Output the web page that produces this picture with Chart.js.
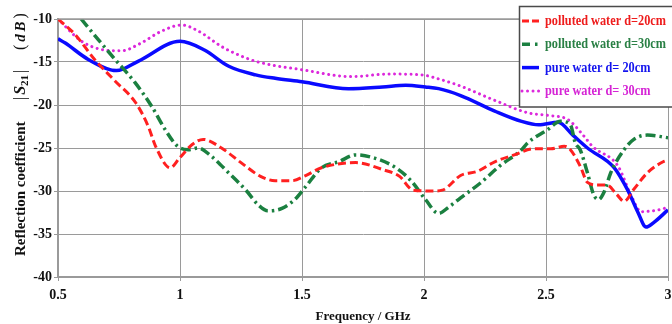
<!DOCTYPE html>
<html><head><meta charset="utf-8">
<script src="https://cdn.jsdelivr.net/npm/chart.js@4/dist/chart.umd.min.js"></script>
<style>html,body{margin:0;padding:0;background:#fff;overflow:hidden}#wrap{width:672px;height:324px;position:relative}</style>
</head><body><div id="wrap"><canvas id="c" width="672" height="324"></canvas></div>
<script>
// ---- data ----
const xTickLabels = ['0.5','1','1.5','2','2.5','3'];
const yTickLabels = ['-10','-15','-20','-25','-30','-35','-40'];
const seriesLabels = ['polluted water d=20cm','polluted water d=30cm','pure water d= 20cm','pure water d= 30cm'];

const freqPolluted20 = [0.5,0.57,0.65,0.73,0.82,0.87,0.90,0.96,1.0,1.05,1.095,1.17,1.25,1.33,1.39,1.46,1.515,1.58,1.72,1.83,1.9,1.955,2.035,2.075,2.15,2.22,2.29,2.37,2.45,2.52,2.575,2.6,2.64,2.67,2.71,2.75,2.79,2.82,2.86,2.915,2.98,3.0];
const s21Polluted20 = [-10,-11.8,-14.7,-17.1,-19.8,-22.5,-24.8,-27.3,-26.1,-24.6,-24.0,-25.0,-26.7,-28.3,-28.8,-28.8,-28.2,-27.3,-26.7,-27.5,-28.3,-29.9,-30.0,-29.9,-28.2,-27.7,-26.6,-25.8,-25.1,-25.1,-24.8,-25.2,-27.1,-29.0,-29.3,-29.3,-30.4,-31.2,-29.8,-27.9,-26.6,-26.4];

const freqPolluted30 = [0.595,0.665,0.734,0.816,0.885,0.94,0.99,1.034,1.075,1.13,1.2,1.27,1.32,1.36,1.42,1.47,1.515,1.58,1.65,1.72,1.8,1.885,1.95,2.006,2.06,2.1,2.15,2.23,2.31,2.4,2.425,2.505,2.56,2.6,2.62,2.64,2.67,2.695,2.715,2.74,2.765,2.82,2.86,2.915,3.0];
const s21Polluted30 = [-10,-12.4,-14.7,-17.4,-20.2,-22.9,-24.8,-25.2,-25.0,-26.0,-27.9,-29.9,-31.6,-32.3,-32.0,-31.0,-29.5,-27.3,-26.6,-25.8,-26.2,-27.3,-28.9,-31.0,-32.6,-31.9,-30.8,-29.1,-27.1,-25.2,-24.4,-22.9,-21.9,-22.3,-24.4,-25.2,-27.9,-30.4,-31.0,-30.0,-27.9,-25.2,-24.0,-23.5,-23.8];

const freqPure20 = [0.5,0.53,0.624,0.74,0.83,1.0,1.1,1.2,1.31,1.39,1.5,1.69,1.83,1.925,2.006,2.06,2.15,2.29,2.4,2.47,2.55,2.61,2.67,2.78,2.835,2.877,2.91,2.94,3.0];
const s21Pure20 = [-12.3,-12.8,-14.7,-16.0,-14.9,-12.6,-13.6,-15.5,-16.5,-16.9,-17.3,-18.1,-17.9,-17.7,-17.9,-18.1,-18.9,-20.7,-21.9,-22.3,-22.0,-23.5,-25.0,-27.3,-29.9,-32.5,-34.2,-33.7,-32.2];

const freqPure30 = [0.5,0.597,0.69,0.76,0.84,0.925,1.008,1.075,1.17,1.25,1.32,1.5,1.705,1.855,1.99,2.075,2.15,2.285,2.425,2.505,2.59,2.655,2.69,2.795,2.85,2.89,2.96,3.0];
const s21Pure30 = [-10.0,-12.6,-13.6,-13.7,-12.8,-11.4,-10.7,-11.4,-13.2,-14.3,-15.0,-15.9,-16.7,-16.4,-16.5,-17.1,-17.8,-19.4,-20.9,-21.2,-21.7,-23.6,-24.8,-27.1,-30.6,-32.4,-32.2,-31.9];

const pts = (xs, ys) => xs.map((x, i) => ({x, y: ys[i]}));
const SERIF = '"Liberation Serif", "Times New Roman", serif';

const legendPlugin = {
  id: 'boxLegend',
  afterDraw(chart) {
    const ctx = chart.ctx;
    ctx.save();
    ctx.fillStyle = '#fff';
    ctx.fillRect(519.5, 6.5, 170, 100.5);
    ctx.strokeStyle = '#4a4a4a';
    ctx.lineWidth = 1.5;
    ctx.strokeRect(519.5, 6.5, 170, 100.5);
    ctx.font = 'bold 14px ' + SERIF;
    const squeeze = 121 / ctx.measureText(chart.data.datasets[0].label).width;
    chart.data.datasets.forEach((ds, i) => {
      const y = 21 + i * 23.3;
      ctx.beginPath();
      ctx.setLineDash(ds.legendDash);
      ctx.lineCap = ds.borderCapStyle || 'butt';
      ctx.strokeStyle = ds.borderColor;
      ctx.lineWidth = ds.borderWidth;
      ctx.moveTo(522, y);
      ctx.lineTo(539, y);
      ctx.stroke();
      ctx.setLineDash([]);
      ctx.fillStyle = ds.labelColor;
      ctx.font = 'bold 14px ' + SERIF;
      ctx.textBaseline = 'middle';
      ctx.textAlign = 'left';
      const w = ctx.measureText(ds.label).width * squeeze;
      ctx.fillText(ds.label, 545, y + 0.5, w);
    });
    ctx.restore();
  }
};

const frameAndTitlePlugin = {
  id: 'frameTitle',
  afterDraw(chart) {
    const ctx = chart.ctx, a = chart.chartArea;
    ctx.save();
    ctx.strokeStyle = '#9a9a9a';
    ctx.lineWidth = 1.5;
    ctx.beginPath();
    ctx.moveTo(a.left, a.top);
    ctx.lineTo(a.right, a.top);
    ctx.stroke();
    ctx.translate(21, 256);
    ctx.rotate(-Math.PI / 2);
    ctx.textBaseline = 'middle';
    ctx.textAlign = 'left';
    ctx.fillStyle = '#111';
    ctx.font = 'bold 15px ' + SERIF;
    ctx.fillText('Reflection coefficient', 0, 0);
    let x = 156;
    ctx.font = '16px ' + SERIF;
    ctx.fillText('|', x, 0); x += ctx.measureText('| ').width - 2;
    ctx.font = 'italic bold 16px ' + SERIF;
    ctx.fillText('S', x, 0); x += ctx.measureText('S').width;
    ctx.font = 'bold 11px ' + SERIF;
    ctx.fillText('21', x, 4); x += ctx.measureText('21').width + 2;
    ctx.font = '16px ' + SERIF;
    ctx.fillText('|', x, 0);
    x = 206;
    ctx.fillText('(', x, 0); x += ctx.measureText('( ').width - 1;
    ctx.font = 'italic bold 15px ' + SERIF;
    ctx.fillText('d', x, 0); x += ctx.measureText('d ').width - 1;
    ctx.fillText('B', x, 0); x += ctx.measureText('B').width + 3;
    ctx.font = '16px ' + SERIF;
    ctx.fillText(')', x, 0);
    ctx.restore();
  }
};

new Chart(document.getElementById('c'), {
  type: 'line',
  data: {
    datasets: [
      { label: seriesLabels[0], data: pts(freqPolluted20, s21Polluted20), borderColor: '#ff2020', labelColor: '#ee1c1c',
        borderWidth: 3, borderDash: [8, 4], legendDash: [7, 3] },
      { label: seriesLabels[1], data: pts(freqPolluted30, s21Polluted30), borderColor: '#1b8040', labelColor: '#2a8045',
        borderWidth: 3.5, borderDash: [10, 4, 2.5, 4], legendDash: [8, 5, 2.5, 4] },
      { label: seriesLabels[2], data: pts(freqPure20, s21Pure20), borderColor: '#0a0aff', labelColor: '#1414ee',
        borderWidth: 3.5, borderDash: [], legendDash: [] },
      { label: seriesLabels[3], data: pts(freqPure30, s21Pure30), borderColor: '#dc28dc', labelColor: '#d524d5',
        borderWidth: 3, borderDash: [0.01, 5.5], borderCapStyle: 'round', legendDash: [0.01, 5.5] }
    ]
  },
  options: {
    responsive: false,
    animation: false,
    devicePixelRatio: 1,
    layout: { padding: { left: 0, right: 4, top: 19, bottom: 0 } },
    elements: { point: { radius: 0 }, line: { cubicInterpolationMode: 'monotone', fill: false } },
    plugins: { legend: { display: false }, tooltip: { enabled: false } },
    scales: {
      x: {
        type: 'linear', min: 0.5, max: 3,
        afterFit: s => { s.height = 47; s.paddingRight = 0; s.paddingLeft = 0; },
        ticks: { stepSize: 0.5, padding: 6, color: '#111', font: { family: SERIF, size: 14, weight: 'bold' },
          callback: (v) => { const i = Math.round((v - 0.5) / 0.5); return xTickLabels[i]; } },
        grid: { color: '#9a9a9a', lineWidth: 1, borderDash: [1.5, 2], tickLength: 4, tickColor: '#9a9a9a', tickBorderDash: [] },
        border: { display: true, color: '#9a9a9a', width: 2 },
        title: { display: true, text: 'Frequency / GHz', color: '#111', font: { family: SERIF, size: 13, weight: 'bold' }, padding: { top: 0, bottom: 0 } }
      },
      y: {
        type: 'linear', min: -40, max: -10,
        afterFit: s => { s.width = 58; s.paddingTop = 0; s.paddingBottom = 0; },
        ticks: { stepSize: 5, padding: 2, color: '#111', font: { family: SERIF, size: 14, weight: 'bold' },
          callback: (v) => { const i = Math.round((-10 - v) / 5); return yTickLabels[i]; } },
        grid: { color: '#9a9a9a', lineWidth: 1, borderDash: [1.5, 2], tickLength: 4, tickColor: '#9a9a9a', tickBorderDash: [] },
        border: { display: true, color: '#9a9a9a', width: 2 }
      }
    }
  },
  plugins: [frameAndTitlePlugin, legendPlugin]
});
</script>
</body></html>
